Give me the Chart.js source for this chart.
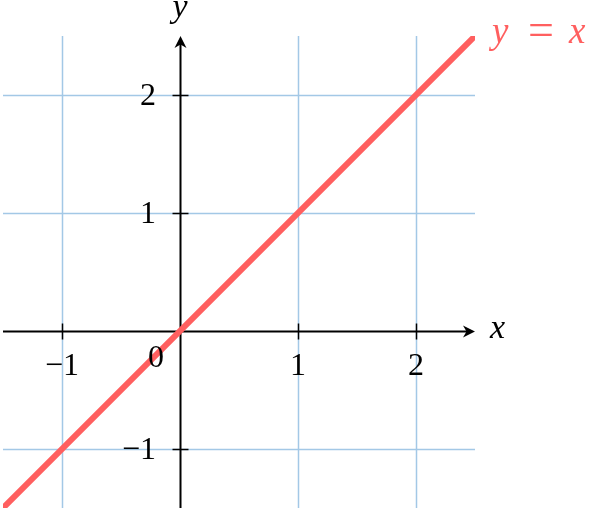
<!DOCTYPE html>
<html>
<head>
<meta charset="utf-8">
<script src="https://cdn.jsdelivr.net/npm/chart.js"></script>
<style>
  body { margin: 0; background: #fff; }
  canvas { display: block; }
</style>
</head>
<body>
<canvas id="grafico" width="591" height="512"></canvas>
<script>
// dados
const xValores = [-1.5, 2.5];
const yValores = [-1.5, 2.5];
const ticksX = [-1, 1, 2];
const ticksY = [-1, 1, 2];
const gridX = [-1, 1, 2];
const gridY = [-1, 1, 2];
const rotuloReta = ['y', '=', 'x'];

const corGrade = '#a3c8e6';
const corReta = '#ff5f5f';
const fonteSerif = '"Liberation Serif", "DejaVu Serif", serif';

function seta(ctx, x, y, ang) {
    ctx.save();
    ctx.translate(x, y);
    ctx.rotate(ang);
    ctx.beginPath();
    ctx.moveTo(0, 0);
    ctx.lineTo(-12, -6);
    ctx.lineTo(-8.5, 0);
    ctx.lineTo(-12, 6);
    ctx.closePath();
    ctx.fillStyle = '#000';
    ctx.fill();
    ctx.restore();
}

const eixosPlugin = {
    id: 'eixos',
    beforeDatasetsDraw(chart) {
        const ctx = chart.ctx;
        const { left, right, top, bottom } = chart.chartArea;
        const sx = chart.scales.x, sy = chart.scales.y;
        ctx.save();
        // grade
        ctx.strokeStyle = corGrade;
        ctx.lineWidth = 1.5;
        gridX.forEach(v => {
            const px = Math.round(sx.getPixelForValue(v)) + 0.5;
            ctx.beginPath(); ctx.moveTo(px, top); ctx.lineTo(px, bottom); ctx.stroke();
        });
        gridY.forEach(v => {
            const py = Math.round(sy.getPixelForValue(v)) + 0.5;
            ctx.beginPath(); ctx.moveTo(left, py); ctx.lineTo(right, py); ctx.stroke();
        });
        // eixos
        const x0 = Math.round(sx.getPixelForValue(0)) + 0.5;
        const y0 = Math.round(sy.getPixelForValue(0)) + 0.5;
        ctx.strokeStyle = '#000';
        ctx.lineWidth = 2;
        ctx.beginPath(); ctx.moveTo(left, y0); ctx.lineTo(right - 4, y0); ctx.stroke();
        ctx.beginPath(); ctx.moveTo(x0, bottom); ctx.lineTo(x0, top + 4); ctx.stroke();
        seta(ctx, right, y0, 0);
        seta(ctx, x0, top, -Math.PI / 2);
        // marcas
        ctx.lineWidth = 1.5;
        ticksX.forEach(v => {
            const px = Math.round(sx.getPixelForValue(v)) + 0.5;
            ctx.beginPath(); ctx.moveTo(px, y0 - 8); ctx.lineTo(px, y0 + 8); ctx.stroke();
        });
        ticksY.forEach(v => {
            const py = Math.round(sy.getPixelForValue(v)) + 0.5;
            ctx.beginPath(); ctx.moveTo(x0 - 8, py); ctx.lineTo(x0 + 8, py); ctx.stroke();
        });
        ctx.restore();
    },
    afterDatasetsDraw(chart) {
        const ctx = chart.ctx;
        const { right, top } = chart.chartArea;
        const sx = chart.scales.x, sy = chart.scales.y;
        const x0 = sx.getPixelForValue(0);
        const y0 = sy.getPixelForValue(0);
        const fmt = v => (v < 0 ? '\u2212' : '') + Math.abs(v);
        ctx.save();
        ctx.fillStyle = '#000';
        ctx.font = '32px ' + fonteSerif;
        ctx.textBaseline = 'middle';
        ctx.textAlign = 'center';
        ticksX.forEach(v => {
            ctx.fillText(fmt(v), sx.getPixelForValue(v), y0 + 36);
        });
        ctx.textAlign = 'right';
        ticksY.forEach(v => {
            ctx.fillText(fmt(v), x0 - 24, sy.getPixelForValue(v) + 2);
        });
        ctx.textAlign = 'center';
        ctx.fillText('0', x0 - 24, y0 + 28);
        // rotulos dos eixos
        ctx.font = 'italic 34px ' + fonteSerif;
        ctx.textAlign = 'left';
        ctx.fillText('x', right + 15, y0 - 2);
        ctx.textAlign = 'center';
        ctx.fillText('y', x0, top - 28);
        // rotulo da reta
        ctx.fillStyle = corReta;
        ctx.textAlign = 'left';
        ctx.textBaseline = 'alphabetic';
        ctx.font = 'italic 37px ' + fonteSerif;
        ctx.fillText(rotuloReta[0], right + 17, top + 7);
        ctx.fillText(rotuloReta[2], right + 94, top + 7);
        ctx.font = '46px ' + fonteSerif;
        ctx.fillText(rotuloReta[1], right + 53, top + 9);
        ctx.restore();
    }
};

new Chart(document.getElementById('grafico'), {
    type: 'scatter',
    data: {
        datasets: [{
            data: xValores.map((x, i) => ({ x: x, y: yValores[i] })),
            showLine: true,
            borderColor: corReta,
            borderWidth: 6,
            pointRadius: 0,
            fill: false
        }]
    },
    options: {
        responsive: false,
        animation: false,
        layout: { padding: { left: 3, right: 116, top: 36, bottom: 4 } },
        plugins: { legend: { display: false }, tooltip: { enabled: false } },
        scales: {
            x: { type: 'linear', min: -1.5, max: 2.5, display: false },
            y: { type: 'linear', min: -1.5, max: 2.5, display: false }
        }
    },
    plugins: [eixosPlugin]
});
</script>
</body>
</html>
